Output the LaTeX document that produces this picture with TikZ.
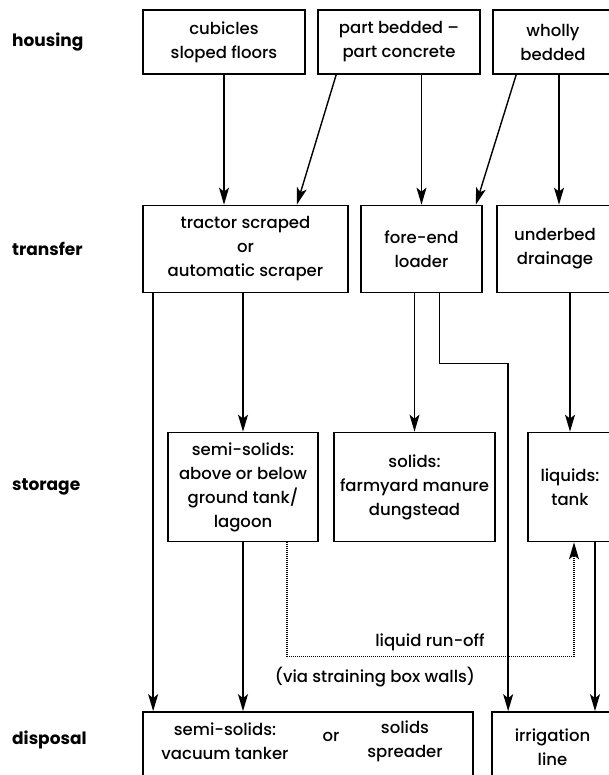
\documentclass[tikz,border=0pt]{standalone}
\usepackage{fontspec}
\setmainfont{Poppins}[UprightFont={* Medium},BoldFont={* Bold}]
\usepackage{tikz}
\usetikzlibrary{arrows.meta,calc}

\begin{document}
\begin{tikzpicture}[x=1pt,y=-1pt,
  box/.style={draw,line width=1.7pt,align=center,inner sep=0pt,font=\fontsize{16.5}{24}\selectfont},
  txt/.style={align=center,inner sep=0pt,font=\fontsize{16.5}{24}\selectfont},
  lbl/.style={anchor=west,inner sep=0pt,font=\fontsize{17}{24}\selectfont\bfseries},
  flow/.style={-{Stealth[length=17pt,width=10pt,inset=4pt]},line width=1.4pt},
  runoff/.style={flow,dash pattern=on 1.1pt off 0.9pt}]
  \useasboundingbox (0,0) rectangle (609,775);
  \clip (0,0) rectangle (609,775);

  \node[lbl] (housing) at (12,42) {housing};
  \node[lbl] (transfer) at (12,249) {transfer};
  \node[lbl] (storage) at (12,487) {storage};
  \node[lbl] (disposal) at (12,740) {disposal};

  \node[box,minimum width=162pt,minimum height=64pt] (B1) at (224,42) {cubicles\\sloped floors};
  \node[box,minimum width=162pt,minimum height=64pt] (B2) at (399,42) {part bedded --\\part concrete};
  \node[box,minimum width=120pt,minimum height=64pt] (B3) at (553,42) {wholly\\bedded};

  \node[box,minimum width=205pt,minimum height=87pt] (T1) at (245.5,249) {tractor scraped\\or\\automatic scraper};
  \node[box,minimum width=121pt,minimum height=87pt] (T2) at (421.5,249) {fore-end\\loader};
  \node[box,minimum width=116pt,minimum height=87pt] (T3) at (555,249) {underbed\\drainage};

  \node[box,minimum width=150pt,minimum height=109pt] (S1) at (243,487) {semi-solids:\\above or below\\ground tank/\\lagoon};
  \node[box,minimum width=161pt,minimum height=109pt] (S2) at (414.5,487) {solids:\\farmyard manure\\dungstead};
  \node[box,minimum width=84pt,minimum height=109pt] (S3) at (570,487) {liquids:\\tank};

  \node[box,minimum width=330pt,minimum height=70pt] (D1) at (308,747) {};
  \node[box,minimum width=121pt,minimum height=70pt] (D2) at (552.5,747) {irrigation\\line};
  \node[txt] (semi) at (225,741) {semi-solids:\\vacuum tanker};
  \node[txt] (or) at (331,737) {or};
  \node[txt] (spread) at (405,741) {solids\\spreader};

  \node[txt] (runofflbl) at (430,642) {liquid run-off};
  \node[txt] (via) at (375,677) {(via straining box walls)};

  \draw[flow] (B1.south) -- (B1.south |- T1.north);
  \draw[flow] ([xshift=19pt]B2.south west) -- ([xshift=-52pt]T1.north east);
  \draw[flow] (T2.north |- B2.south) -- (T2.north);
  \draw[flow] ([xshift=24pt]B3.south west) -- ([xshift=-7pt]T2.north east);
  \draw[flow] ([xshift=6pt]B3.south) -- ([xshift=6pt]B3.south |- T3.north);

  \draw[flow] ([xshift=11pt]T1.south west) -- ([xshift=11pt]T1.south west |- D1.north);
  \draw[flow] (S1.north |- T1.south) -- (S1.north);
  \draw[flow] (S2.north |- T2.south) -- (S2.north);
  \draw[flow] ([xshift=18pt]T2.south) -- ++(0,70) -| ([xshift=17pt]D2.north west);
  \draw[flow] (S3.north |- T3.south) -- (S3.north);

  \draw[flow] (S1.south) -- (S1.south |- D1.north);
  \draw[runoff] ([xshift=44pt]S1.south) -- ++(0,114) -| ([xshift=4pt]S3.south);
  \draw[flow] ([xshift=25pt]S3.south) -- ([xshift=25pt]S3.south |- D2.north);
\end{tikzpicture}
\end{document}
